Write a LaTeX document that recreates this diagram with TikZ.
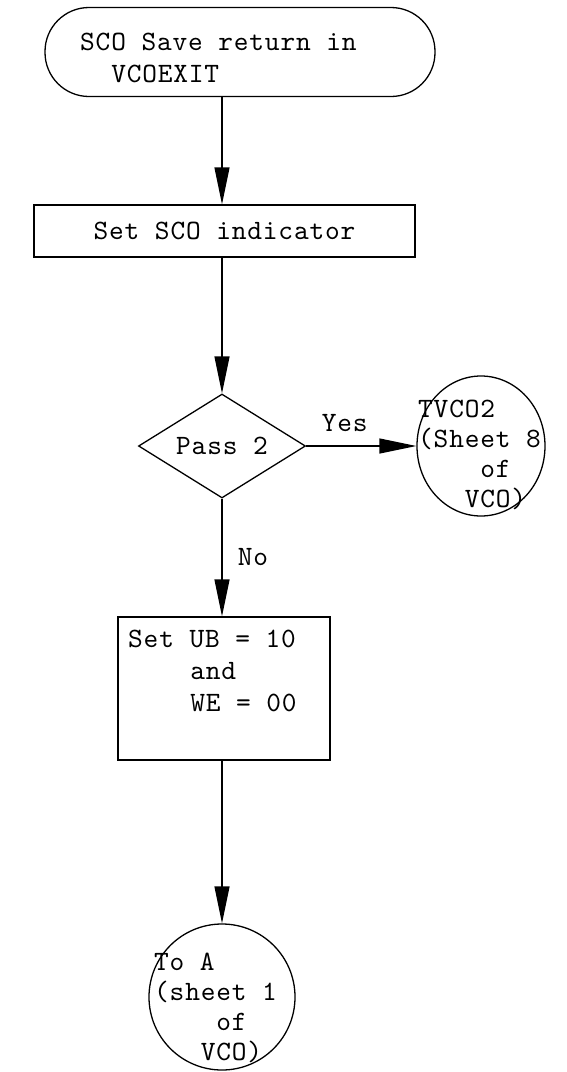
\documentclass[tikz,border=0pt]{standalone}
\usepackage{fontspec}
\usepackage{tikz}
\usetikzlibrary{shapes.geometric,arrows.meta}
\newfontfamily\flowfont[LetterSpace=3]{lmmono10-regular.otf}

\begin{document}
\begin{tikzpicture}[x=1pt, y=-1pt, >=latex,
  box/.style={draw, line width=1.3pt, inner sep=0pt, font=\flowfont\fontsize{28}{32}\selectfont},
  term/.style={box, rounded corners=44pt},
  decision/.style={box, diamond, aspect=2},
  conn/.style={box, ellipse},
  txt/.style={inner sep=0pt, align=left, anchor=north west, font=\flowfont\fontsize{28}{32}\selectfont},
  ctxt/.style={txt, font=\flowfont\fontsize{28}{30}\selectfont},
  flow/.style={line width=1.3pt, -{Triangle[length=37pt,width=15pt]}}]

% Parameters
\def\mx{222}

% Frame
\useasboundingbox (0,0) rectangle (566,1072);

% Start
\node[term, minimum width=390pt, minimum height=89pt] (start) at (240,52) {};
\node[txt] (starttxt) at (80,33) {SCO Save return in\\~~VCOEXIT};

% Indicator
\node[box, minimum width=381pt, minimum height=52pt] (setsco) at (224.5,231) {Set SCO indicator};

% Decision
\node[decision, minimum width=167pt, minimum height=104pt] (pass) at (\mx,446) {Pass 2};
\node[conn, minimum width=128pt, minimum height=140pt] (tvco) at (481,446) {};
\node[ctxt] (tvcotxt) at (418,400) {TVCO2\\(Sheet~8\\~~~~of\\~~~VCO)};

% Set UB and WE
\node[box, minimum width=212pt, minimum height=143pt] (setub) at (224,688.5) {};
\node[txt] (setubtxt) at (128,630) {Set UB = 10\\~~~~and\\~~~~WE = 00};

% Exit
\node[conn, minimum width=146pt, minimum height=146pt] (toa) at (\mx,997) {};
\node[ctxt] (toatxt) at (154,953) {To A\\(sheet~1\\~~~~of\\~~~VCO)};

% Flow lines
\draw[flow] (start.south -| pass.north) -- (setsco.north -| pass.north);
\draw[flow] (setsco.south -| pass.north) -- (pass.north);
\draw[flow] (pass.east) -- (tvco.west) node[txt, anchor=center, pos=0.35, yshift=23pt] (yes) {Yes};
\draw[flow] (pass.south) -- (setub.north -| pass.south) node[txt, anchor=center, pos=0.5, xshift=31pt] (no) {No};
\draw[flow] (setub.south -| pass.south) -- (toa.north);

\end{tikzpicture}
\end{document}
